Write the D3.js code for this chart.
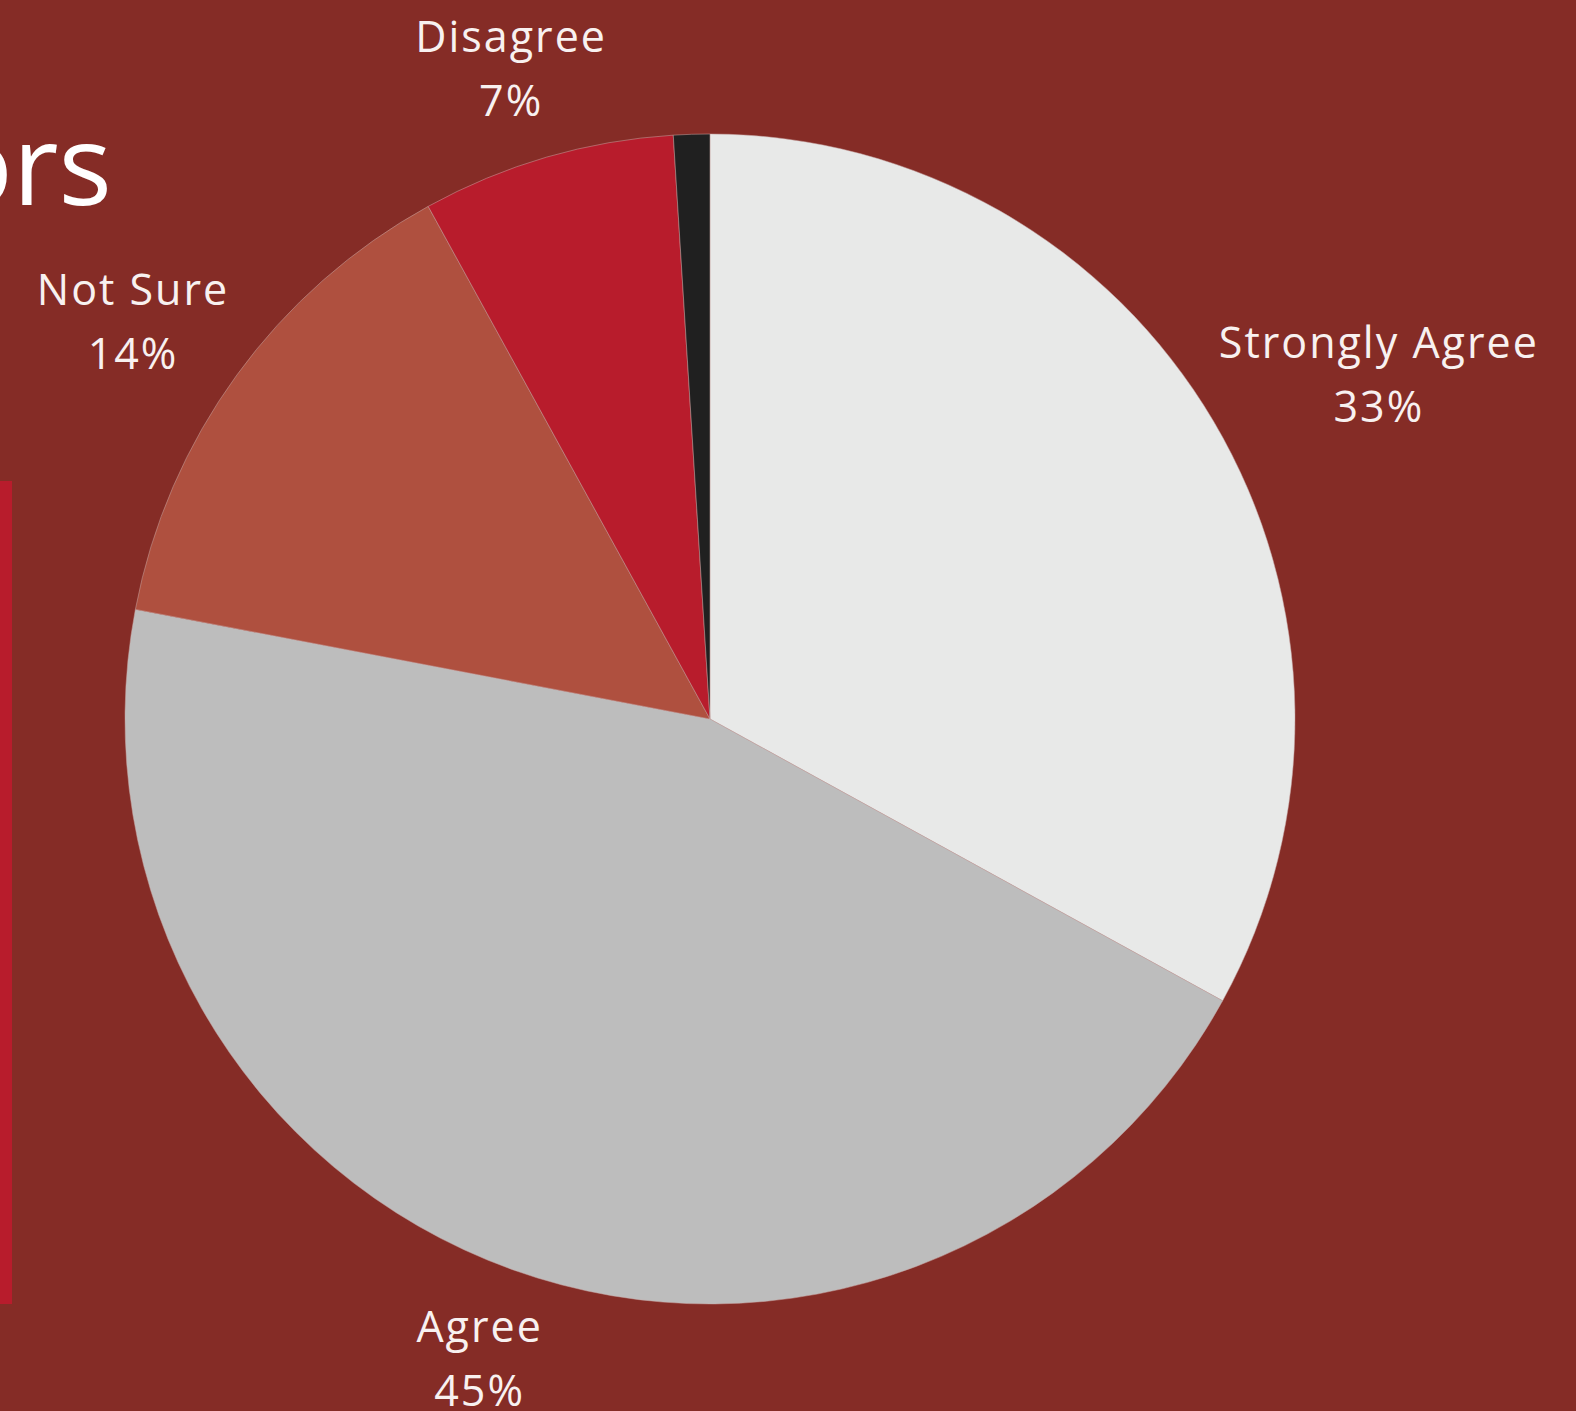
<!DOCTYPE html>
<html lang="en">
<head>
  <meta charset="UTF-8">
  <title>Survey Pie Chart</title>
  <script src="https://d3js.org/d3.v7.min.js"></script>
  <style>
    body {
      margin: 0;
      padding: 0;
      background-color: #852c26;
      overflow: hidden;
    }
    .label {
      font-family: 'Open Sans', sans-serif;
      font-size: 43px;
      letter-spacing: 2px;
      fill: #f8f1f0;
    }
    .title {
      font-family: 'Open Sans', sans-serif;
      font-weight: 400;
      font-size: 112px;
      fill: #ffffff;
    }
  </style>
</head>
<body>
  <div id="chart"></div>
  <script>
    // data
    const categories = ["Strongly Agree", "Agree", "Not Sure", "Disagree", "Strongly Disagree"];
    const values = [33, 45, 14, 7, 1];
    const colors = ["#e8e9e8", "#bdbdbd", "#af503f", "#b81c2c", "#202020"];

    const width = 1576, height = 1411;
    const cx = 710, cy = 719, radius = 585;

    const svg = d3.select("#chart")
      .append("svg")
      .attr("width", width)
      .attr("height", height);

    // accent bar on the left edge and the cut-off heading
    svg.append("rect")
      .attr("x", 0).attr("y", 481)
      .attr("width", 12).attr("height", 823)
      .attr("fill", "#b81c2c");

    svg.append("text")
      .attr("class", "title")
      .attr("x", 112).attr("y", 205)
      .attr("text-anchor", "end")
      .text("ors");

    const data = categories.map((c, i) => ({ name: c, value: values[i], color: colors[i] }));

    const pie = d3.pie().value(d => d.value).sort(null);
    const arc = d3.arc().innerRadius(0).outerRadius(radius);
    const arcs = pie(data);

    const g = svg.append("g").attr("transform", `translate(${cx},${cy})`);

    g.selectAll("path")
      .data(arcs)
      .enter()
      .append("path")
      .attr("d", arc)
      .attr("fill", d => d.data.color)
      .attr("stroke", "#c9a9a6")
      .attr("stroke-width", 0.5);

    // labels sit just outside the rim, box pushed outward along the slice's mid-angle
    const labelRadius = radius + 32;
    const lineGap = 64;
    arcs.filter(d => d.data.value >= 2).forEach(d => {
      const a = (d.startAngle + d.endAngle) / 2;
      const t = g.append("text")
        .attr("class", "label")
        .attr("text-anchor", "middle");
      t.append("tspan").attr("x", 0).attr("dy", 0).text(d.data.name);
      t.append("tspan").attr("x", 0).attr("dy", lineGap).text(d.data.value + "%");
      const bb = t.node().getBBox();
      const ax = labelRadius * Math.sin(a);
      const ay = -labelRadius * Math.cos(a);
      const bx = ax + (bb.width / 2) * Math.sin(a);
      const by = ay - (bb.height / 2) * Math.cos(a);
      // shift so the box centre is at (bx, by)
      const dx = bx - (bb.x + bb.width / 2);
      const dy = by - (bb.y + bb.height / 2);
      t.attr("transform", `translate(${dx},${dy})`);
    });
  </script>
</body>
</html>
